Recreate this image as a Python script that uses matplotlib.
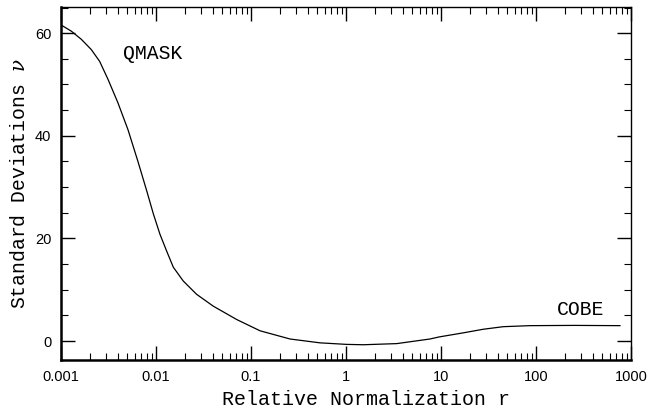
import numpy as np
import matplotlib
matplotlib.use("Agg")
import matplotlib.pyplot as plt
from matplotlib.ticker import LogLocator, MultipleLocator, FixedLocator, FixedFormatter, NullFormatter

# curve: log10(r) and nu
log_r = [-3.0, -2.892, -2.786, -2.681, -2.593, -2.505, -2.40, -2.295, -2.19, -2.098,
         -2.028, -1.958, -1.887, -1.818, -1.713, -1.572, -1.397, -1.151, -0.905, -0.589,
         -0.274, 0.007, 0.182, 0.534, 0.884, 0.98, 1.235, 1.445, 1.656, 1.937,
         2.4, 2.884]
nu = [61.6, 60.4, 58.8, 56.8, 54.5, 51.0, 46.4, 41.2, 35.0, 29.3,
      24.8, 20.8, 17.5, 14.4, 11.7, 9.1, 6.8, 4.2, 2.0, 0.4,
      -0.35, -0.65, -0.72, -0.5, 0.4, 0.8, 1.6, 2.3, 2.8, 3.0,
      3.05, 3.0]

x_ticks = [0.001, 0.01, 0.1, 1, 10, 100, 1000]
x_labels = ["0.001", "0.01", "0.1", "1", "10", "100", "1000"]
y_ticks = [0, 20, 40, 60]

mono = "Liberation Mono"
plt.rcParams["mathtext.fontset"] = "dejavuserif"

fig = plt.figure(figsize=(6.68, 4.11), dpi=100)
ax = fig.add_axes([0.0913, 0.124, 0.8533, 0.859])

r = 10 ** np.array(log_r)
ax.plot(r, nu, color="black", linewidth=0.9, solid_joinstyle="round")

ax.set_xscale("log")
ax.set_xlim(0.001, 1000)
ax.set_ylim(-3.7, 65.1)

ax.xaxis.set_major_locator(FixedLocator(x_ticks))
ax.xaxis.set_major_formatter(FixedFormatter(x_labels))
ax.xaxis.set_minor_locator(LogLocator(base=10, subs=np.arange(2, 10)))
ax.xaxis.set_minor_formatter(NullFormatter())
ax.yaxis.set_major_locator(FixedLocator(y_ticks))
ax.yaxis.set_minor_locator(MultipleLocator(5))

ax.tick_params(which="both", direction="in", top=True, right=True, labelsize=10.5, pad=7)
ax.tick_params(which="major", length=10, width=1.0)
ax.tick_params(which="minor", length=5, width=0.8)
for lab in ax.get_xticklabels() + ax.get_yticklabels():
    lab.set_family("Liberation Sans")

ax.spines["bottom"].set_linewidth(1.8)
ax.spines["left"].set_linewidth(1.8)
ax.spines["top"].set_linewidth(1.0)
ax.spines["right"].set_linewidth(1.0)

ax.set_xlabel("Relative Normalization r", family=mono, fontsize=14.4)
ax.xaxis.set_label_coords(0.535, -0.085)
ax.set_ylabel(r"Standard Deviations $\nu$", family=mono, fontsize=14.2, labelpad=4)

ax.text(0.0093, 56.0, "QMASK", family=mono, fontsize=14.2, ha="center", va="center")
ax.text(298, 6.2, "COBE", family=mono, fontsize=14.2, ha="center", va="center")

fig.savefig("out.png", dpi=100)
